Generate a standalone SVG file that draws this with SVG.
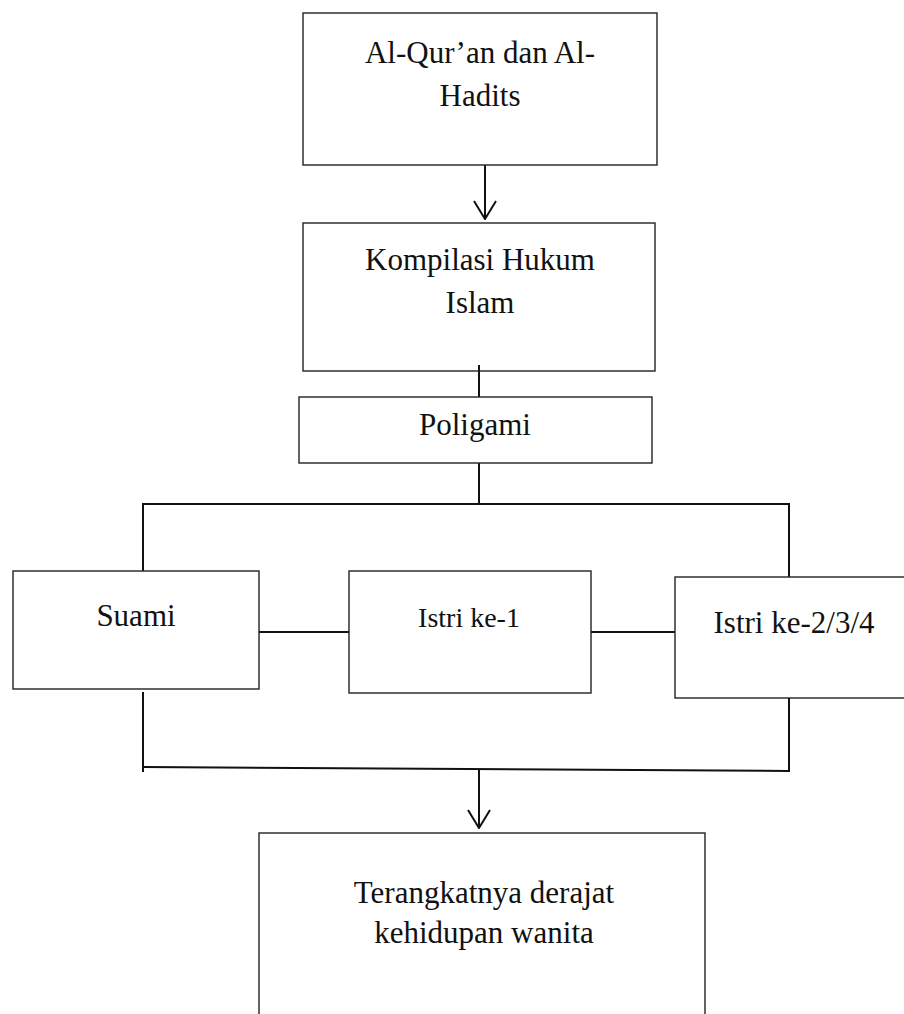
<svg xmlns="http://www.w3.org/2000/svg" width="904" height="1014" viewBox="0 0 904 1014">
<style>
.box{fill:#fff;stroke:#222;stroke-width:1.4}
.t{font-family:"Liberation Serif","Times New Roman",serif;font-size:31px;fill:#111;text-anchor:middle}
.c{fill:none;stroke:#111;stroke-width:2}
</style>
<defs>
<marker id="chev" viewBox="0 0 20 24" refX="19" refY="12" markerWidth="20" markerHeight="24" markerUnits="userSpaceOnUse" orient="auto">
<path d="M1,1 L19,12 L1,23" fill="none" stroke="#111" stroke-width="2"/>
</marker>
</defs>
<rect width="904" height="1014" fill="#fff"/>
<g id="connectors">
<line class="c" x1="485" y1="165" x2="485" y2="219" marker-end="url(#chev)"/>
<line class="c" x1="479" y1="365" x2="479" y2="397"/>
<line class="c" x1="479" y1="463" x2="479" y2="504"/>
<polyline class="c" points="143,571 143,504 789,504 789,577"/>
<line class="c" x1="259" y1="632" x2="349" y2="632"/>
<line class="c" x1="591" y1="632" x2="675" y2="632"/>
<polyline class="c" points="143,692 143,772"/>
<polyline class="c" points="143,767 789,771 789,698"/>
<line class="c" x1="479" y1="769" x2="479" y2="828" marker-end="url(#chev)"/>
</g>
<g id="node-quran">
<rect class="box" x="303" y="13" width="354" height="152"/>
<text class="t" x="480" y="63">Al-Qur’an dan Al-</text>
<text class="t" x="480" y="106">Hadits</text>
</g>
<g id="node-khi">
<rect class="box" x="303" y="223" width="352" height="148"/>
<text class="t" x="480" y="270">Kompilasi Hukum</text>
<text class="t" x="480" y="313">Islam</text>
</g>
<line class="c" x1="479" y1="365" x2="479" y2="371"/>
<g id="node-poligami">
<rect class="box" x="299" y="397" width="353" height="66"/>
<text class="t" x="475" y="435">Poligami</text>
</g>
<g id="node-suami">
<rect class="box" x="13" y="571" width="246" height="118"/>
<text class="t" x="136" y="626">Suami</text>
</g>
<g id="node-istri1">
<rect class="box" x="349" y="571" width="242" height="122"/>
<text class="t" x="469" y="627" style="font-size:28px">Istri ke-1</text>
</g>
<g id="node-istri2">
<rect class="box" x="675" y="577" width="240" height="121"/>
<text class="t" x="794" y="633">Istri ke-2/3/4</text>
</g>
<g id="node-hasil">
<rect class="box" x="259" y="833" width="446" height="200"/>
<text class="t" x="484" y="903">Terangkatnya derajat</text>
<text class="t" x="484" y="943">kehidupan wanita</text>
</g>
</svg>
